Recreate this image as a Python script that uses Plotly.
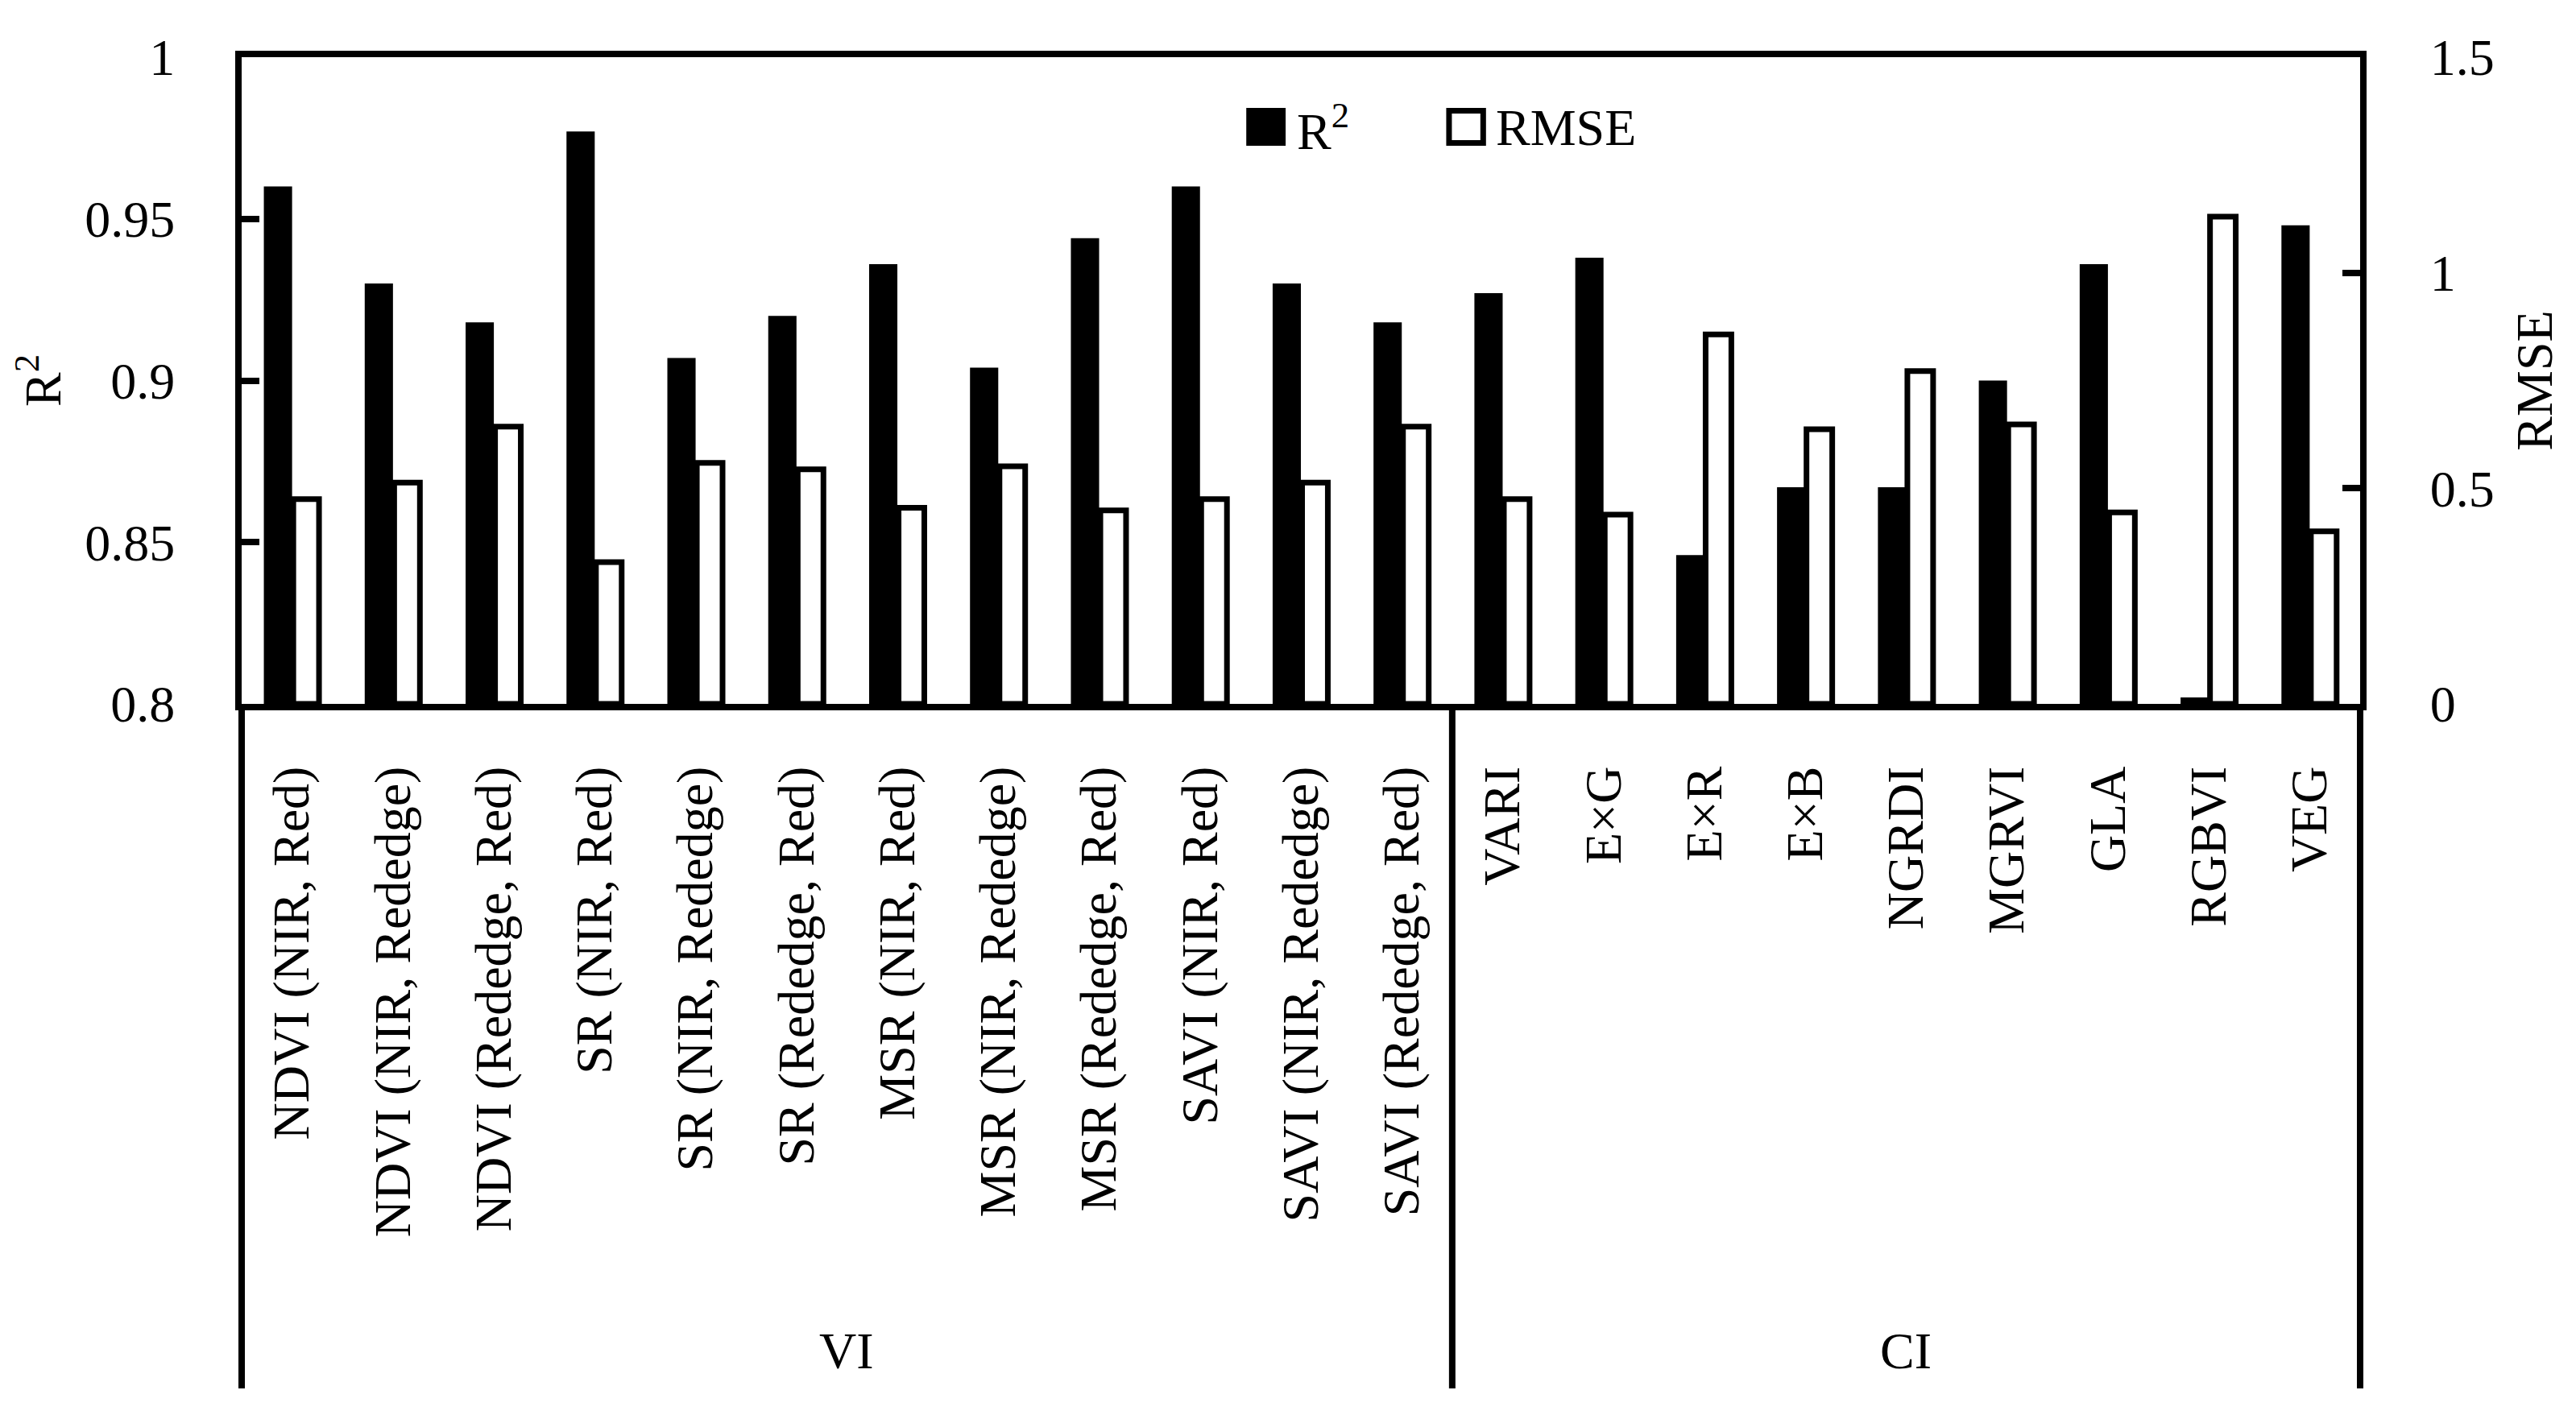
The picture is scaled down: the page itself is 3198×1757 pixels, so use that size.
import plotly.graph_objects as go

categories = ["NDVI (NIR, Red)", "NDVI (NIR, Rededge)", "NDVI (Rededge, Red)",
              "SR (NIR, Red)", "SR (NIR, Rededge)", "SR (Rededge, Red)",
              "MSR (NIR, Red)", "MSR (NIR, Rededge)", "MSR (Rededge, Red)",
              "SAVI (NIR, Red)", "SAVI (NIR, Rededge)", "SAVI (Rededge, Red)",
              "VARI", "E×G", "E×R", "E×B", "NGRDI", "MGRVI", "GLA", "RGBVI", "VEG"]
r2_values = [0.960, 0.930, 0.918, 0.977, 0.907, 0.920, 0.936, 0.904, 0.944,
             0.960, 0.930, 0.918, 0.927, 0.938, 0.846, 0.867, 0.867, 0.900,
             0.936, 0.802, 0.948]
rmse_values = [0.475, 0.513, 0.643, 0.329, 0.559, 0.544, 0.455, 0.551, 0.449,
               0.475, 0.513, 0.643, 0.475, 0.439, 0.857, 0.637, 0.772, 0.648,
               0.444, 1.130, 0.400]
groups = ["VI", "CI"]
group_sizes = [12, 9]
r2_ticks = [0.8, 0.85, 0.9, 0.95, 1.0]
rmse_ticks = [0, 0.5, 1, 1.5]

FONT = "Liberation Serif"
FS = 64
# page body has an 8px default margin; size the figure so screen positions match
OFF = 8
W, H = 3198 - 2 * OFF, 1757 - 2 * OFF
L, T = 292 - OFF, 71 - OFF
plot_w, plot_h = 2638, 803
R = W - L - plot_w
B = H - T - plot_h

def px_x(px):
    # px in screen coordinates
    return (px - OFF - L) / plot_w

def px_y(py):
    return (T + plot_h - (py - OFF)) / plot_h

x_idx = list(range(len(categories)))

fig = go.Figure()
fig.add_trace(go.Bar(
    x=x_idx, y=r2_values, name="R<sup>2</sup>", yaxis="y",
    width=0.28, offset=-0.28,
    marker=dict(color="black", line=dict(width=0)),
    showlegend=False,
))
fig.add_trace(go.Bar(
    x=x_idx, y=rmse_values, name="RMSE", yaxis="y2",
    width=0.255, offset=0.012,
    marker=dict(color="white", line=dict(color="black", width=7)),
    showlegend=False,
))

line_w = 8
fig.update_layout(
    width=W, height=H,
    margin=dict(l=L, r=R, t=T, b=B, pad=0),
    paper_bgcolor="white", plot_bgcolor="white",
    font=dict(family=FONT, size=FS, color="black"),
    barmode="overlay",
    xaxis=dict(
        range=[-0.5, len(categories) - 0.5],
        tickmode="array", tickvals=x_idx, ticktext=categories,
        tickangle=-90, ticks="", showgrid=False, zeroline=False,
        showline=True, mirror=True, linecolor="black", linewidth=line_w,
        tickfont=dict(family=FONT, size=FS, color="black"),
        ticklabelstandoff=44,
    ),
    yaxis=dict(
        range=[0.8, 1.0], tickvals=r2_ticks, ticktext=["0.8", "0.85", "0.9", "0.95", "1"],
        ticks="inside", ticklen=22, tickwidth=8, tickcolor="black",
        showgrid=False, zeroline=False, showline=True, linecolor="black",
        linewidth=line_w, tickfont=dict(family=FONT, size=FS, color="black"),
        ticklabelstandoff=62,
        title=dict(text="R<sup>2</sup>", font=dict(family=FONT, size=FS, color="black"), standoff=40),
    ),
    yaxis2=dict(
        range=[0, 1.5], tickvals=rmse_ticks, ticktext=["0", "0.5", "1", "1.5"],
        overlaying="y", side="right", anchor="x",
        ticks="inside", ticklen=22, tickwidth=8, tickcolor="black",
        showgrid=False, zeroline=False, showline=True, linecolor="black",
        linewidth=line_w, tickfont=dict(family=FONT, size=FS, color="black"),
        ticklabelstandoff=66,
        title=dict(text="RMSE", font=dict(family=FONT, size=FS, color="black"), standoff=30),
    ),
)

# Extended frame lines below the plot area and group separator
bottom_y = px_y(1724)
shapes = [
    dict(type="line", xref="paper", yref="paper", x0=0, x1=0, y0=0, y1=bottom_y,
         line=dict(color="black", width=line_w)),
    dict(type="line", xref="paper", yref="paper", x0=1, x1=1, y0=0, y1=bottom_y,
         line=dict(color="black", width=line_w)),
]
start = 0
for i, n in enumerate(group_sizes):
    end = start + n
    if i < len(group_sizes) - 1:
        shapes.append(dict(type="line", xref="x", yref="paper", x0=end - 0.5, x1=end - 0.5,
                           y0=0, y1=bottom_y, line=dict(color="black", width=line_w)))
    start = end

# Legend (drawn manually to match the large square keys)
shapes.append(dict(type="rect", xref="paper", yref="paper",
                   x0=px_x(1543), x1=px_x(1592), y0=px_y(181), y1=px_y(134),
                   fillcolor="black", line=dict(width=0)))
shapes.append(dict(type="rect", xref="paper", yref="paper",
                   x0=px_x(1795.5), x1=px_x(1838), y0=px_y(177.5), y1=px_y(137.5),
                   fillcolor="white", line=dict(color="black", width=7)))
fig.update_layout(shapes=shapes)

annotations = [
    dict(xref="paper", yref="paper", x=px_x(1604), y=px_y(158), text="R<sup>2</sup>",
         showarrow=False, xanchor="left", yanchor="middle",
         font=dict(family=FONT, size=FS, color="black")),
    dict(xref="paper", yref="paper", x=px_x(1852), y=px_y(158), text="RMSE",
         showarrow=False, xanchor="left", yanchor="middle",
         font=dict(family=FONT, size=FS, color="black")),
]
start = 0
for g, n in zip(groups, group_sizes):
    center = start + (n - 1) / 2
    annotations.append(dict(xref="x", yref="paper", x=center, y=px_y(1677), text=g,
                            showarrow=False, xanchor="center", yanchor="middle",
                            font=dict(family=FONT, size=FS, color="black")))
    start += n
fig.update_layout(annotations=annotations)

fig.write_html("out.html")
